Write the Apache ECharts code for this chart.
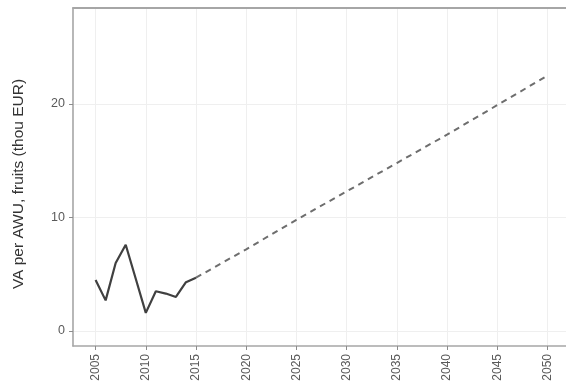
<!DOCTYPE html>
<html>
<head>
<meta charset="utf-8">
<script src="https://cdn.jsdelivr.net/npm/echarts@6/dist/echarts.min.js"></script>
<style>
  html, body { margin: 0; padding: 0; background: #fff; }
  #chart { width: 566px; height: 387px; }
</style>
</head>
<body>
<div id="chart"></div>
<script>
// Observed value added per annual work unit (fruits), thousand EUR
const histYears = [2005, 2006, 2007, 2008, 2009, 2010, 2011, 2012, 2013, 2014, 2015];
const histValues = [4.5, 2.7, 6.0, 7.6, 4.6, 1.6, 3.5, 3.3, 3.0, 4.3, 4.7];

// Linear projection to 2050
const projYears = [2015, 2020, 2025, 2030, 2035, 2040, 2045, 2050];
const projValues = [4.7, 7.2, 9.8, 12.3, 14.8, 17.3, 19.9, 22.5];

// Axis ticks
const xTicks = [2005, 2010, 2015, 2020, 2025, 2030, 2035, 2040, 2045, 2050];
const yTicks = [0, 10, 20];

const pair = (xs, ys) => xs.map((x, i) => [x, ys[i]]);

const frameColor = '#a6a6a6';

const chart = echarts.init(document.getElementById('chart'), null, { renderer: 'canvas' });

chart.setOption({
  animation: false,
  backgroundColor: '#ffffff',
  grid: {
    left: 73, top: 8, width: 497, height: 338,
    outerBoundsMode: 'none',
    containLabel: false
  },
  xAxis: [
    {
      type: 'value',
      min: 2002.75, max: 2052.25,
      axisLine: { show: true, onZero: false, lineStyle: { color: frameColor, width: 1.6 } },
      axisTick: { show: true, length: 4, customValues: xTicks, lineStyle: { color: '#8c8c8c', width: 1 } },
      axisLabel: {
        customValues: xTicks, rotate: 90, margin: 8,
        color: '#5a5a5a', fontFamily: 'Liberation Sans', fontSize: 12,
        formatter: v => String(v)
      },
      splitLine: { show: true, lineStyle: { color: '#efefef', width: 1 } }
    },
    {
      // top edge of the panel frame
      type: 'value', position: 'top',
      min: 2002.75, max: 2052.25,
      axisLine: { show: true, onZero: false, lineStyle: { color: frameColor, width: 1.8 } },
      axisTick: { show: false }, axisLabel: { show: false }, splitLine: { show: false }
    }
  ],
  yAxis: {
    type: 'value',
    min: -1.32, max: 28.46,
    name: 'VA per AWU, fruits (thou EUR)',
    nameLocation: 'middle', nameGap: 46,
    nameTextStyle: {
      color: '#333333', fontFamily: 'Liberation Sans', fontSize: 15.5,
      padding: [0, 14, 0, 0]
    },
    axisLine: { show: true, onZero: false, lineStyle: { color: frameColor, width: 1.6 } },
    axisTick: { show: true, length: 4, customValues: yTicks, lineStyle: { color: '#8c8c8c', width: 1 } },
    axisLabel: {
      customValues: yTicks, margin: 8,
      color: '#5a5a5a', fontFamily: 'Liberation Sans', fontSize: 12.5
    },
    splitLine: { show: true, lineStyle: { color: '#efefef', width: 1 } }
  },
  series: [
    {
      name: 'observed',
      type: 'line',
      data: pair(histYears, histValues),
      showSymbol: false,
      lineStyle: { color: '#404040', width: 2.2, type: 'solid' },
      z: 3
    },
    {
      name: 'projection',
      type: 'line',
      data: pair(projYears, projValues),
      showSymbol: false,
      lineStyle: { color: '#6e6e6e', width: 2, type: [6, 5] },
      z: 2
    }
  ]
});
</script>
</body>
</html>
